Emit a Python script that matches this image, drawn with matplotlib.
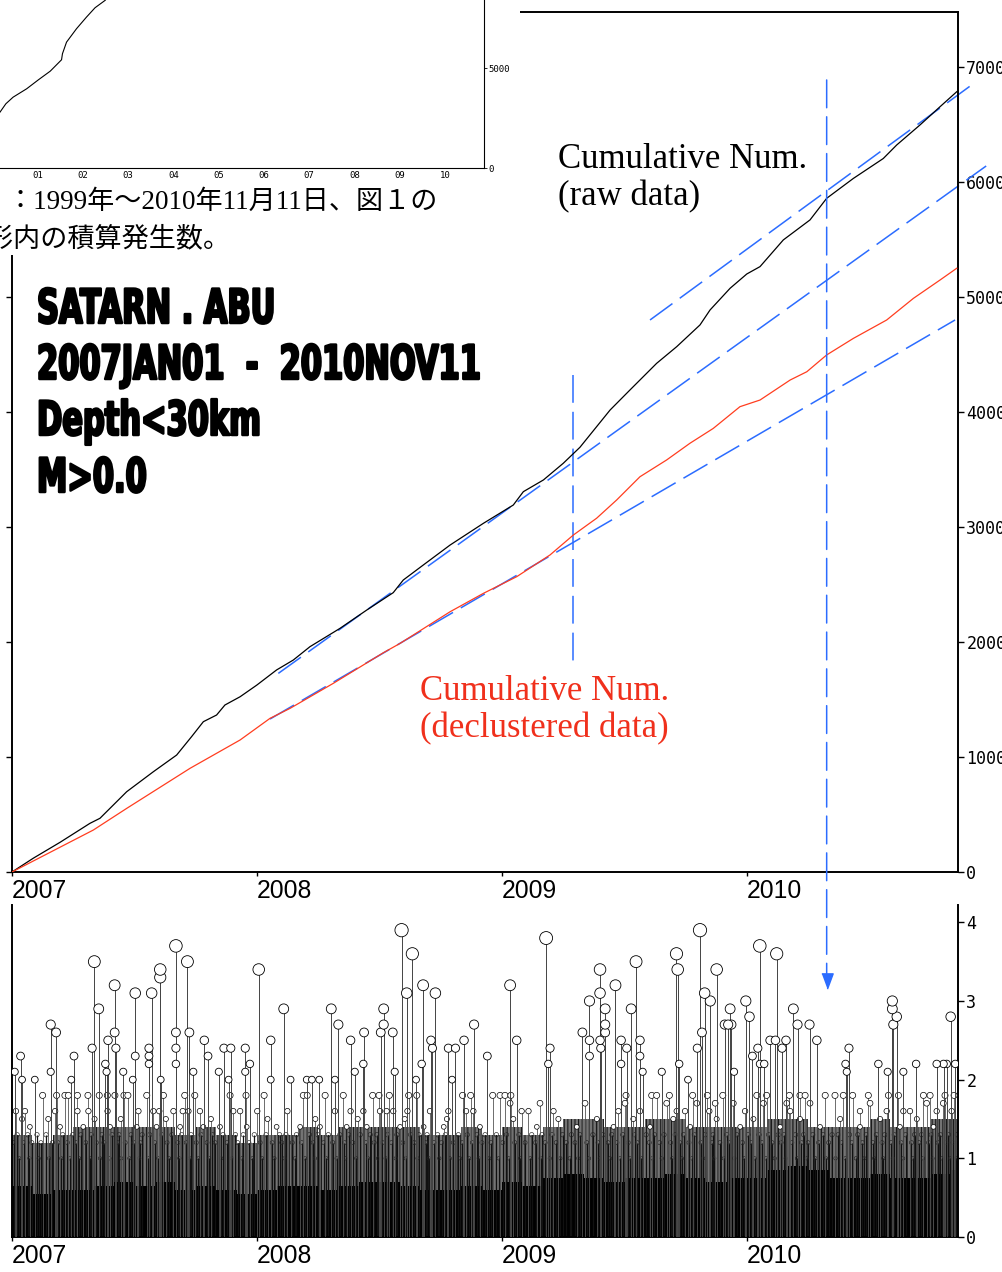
import matplotlib
matplotlib.use("Agg")
import matplotlib.pyplot as plt
import numpy as np
from matplotlib.patches import Rectangle, ConnectionPatch
from matplotlib.patheffects import AbstractPathEffect
from matplotlib.transforms import Affine2D

plt.rcParams["lines.scale_dashes"] = False
plt.rcParams["hatch.linewidth"] = 0.7

# ---------------------------------------------------------------- data
years = [2007, 2008, 2009, 2010]
t_end = 2010.861          # 2010 NOV 11

# cumulative number, raw catalogue
raw_t = [2007.000, 2007.087, 2007.196, 2007.318, 2007.359, 2007.427, 2007.468,
         2007.577, 2007.672, 2007.733, 2007.781, 2007.835, 2007.869, 2007.931,
         2007.999, 2008.080, 2008.148, 2008.216, 2008.339, 2008.448, 2008.556,
         2008.597, 2008.679, 2008.788, 2008.924, 2009.046, 2009.087, 2009.169,
         2009.250, 2009.318, 2009.441, 2009.522, 2009.631, 2009.713, 2009.808,
         2009.849, 2009.931, 2009.999, 2010.053, 2010.148, 2010.257, 2010.325,
         2010.434, 2010.556, 2010.611, 2010.706, 2010.788, 2010.856]
raw_n = [0, 120, 258, 423, 467, 611, 698,
         872, 1017, 1177, 1307, 1365, 1452, 1524,
         1625, 1757, 1843, 1959, 2119, 2278, 2429,
         2539, 2670, 2843, 3032, 3191, 3307, 3409,
         3554, 3693, 4017, 4191, 4423, 4568, 4757,
         4887, 5076, 5200, 5264, 5496, 5670, 5858,
         6031, 6204, 6322, 6496, 6655, 6785]

# cumulative number, declustered catalogue
dec_t = [2007.000, 2007.332, 2007.468, 2007.727, 2007.931, 2008.053, 2008.135,
         2008.311, 2008.516, 2008.584, 2008.788, 2008.924, 2009.060, 2009.196,
         2009.291, 2009.386, 2009.468, 2009.563, 2009.672, 2009.767, 2009.862,
         2009.971, 2010.053, 2010.135, 2010.176, 2010.244, 2010.325, 2010.434,
         2010.570, 2010.679, 2010.788, 2010.856]
dec_n = [0, 365, 553, 902, 1148, 1336, 1423,
         1640, 1907, 1988, 2263, 2423, 2568, 2757,
         2930, 3076, 3235, 3437, 3583, 3728, 3857,
         4046, 4104, 4220, 4278, 4350, 4496, 4640,
         4800, 4988, 5148, 5250]

# rate lines (t0, n0, t1, n1)
trend_lines = [(2009.604, 4800, 2010.922, 6852),
               (2008.087, 1727, 2010.976, 6139),
               (2008.053, 1330, 2010.849, 4800)]
split_date, split_lo, split_hi = 2009.290, 1800, 4322
alert_date, alert_top, alert_mag = 2010.325, 6887, 3.35

# long-term cumulative count 1999-2010 (small panel)
inset_t = [1999.00, 2000.17, 2000.30, 2000.46, 2000.76, 2001.02, 2001.28,
           2001.53, 2001.55, 2001.64, 2001.86, 2002.08, 2002.27, 2002.49, 2003.00]
inset_n = [0, 2804, 3226, 3558, 3980, 4432, 4864,
           5437, 5739, 6322, 6995, 7578, 8050, 8417, 9700]

# larger events (decimal year, magnitude)
big_events = [
    (2007.011, 2.1), (2007.035, 2.3), (2007.041, 2.0), (2007.093, 2.0), (2007.158, 2.7),
    (2007.158, 2.1), (2007.180, 2.6), (2007.242, 2.0), (2007.253, 2.3), (2007.327, 2.4),
    (2007.336, 3.5), (2007.354, 2.9), (2007.381, 2.2), (2007.386, 2.1), (2007.392, 2.5),
    (2007.419, 3.2), (2007.419, 2.6), (2007.424, 2.4), (2007.454, 2.1), (2007.493, 2.0),
    (2007.503, 3.1), (2007.503, 2.3), (2007.559, 2.4), (2007.559, 2.3), (2007.559, 2.2),
    (2007.570, 3.1), (2007.605, 3.4), (2007.605, 3.3), (2007.607, 2.0), (2007.669, 3.7),
    (2007.669, 2.6), (2007.669, 2.4), (2007.669, 2.2), (2007.716, 3.5), (2007.724, 2.6),
    (2007.740, 2.1), (2007.785, 2.5), (2007.800, 2.3), (2007.844, 2.1), (2007.865, 2.4),
    (2007.884, 2.0), (2007.893, 2.4), (2007.952, 2.4), (2007.952, 2.1), (2007.971, 2.2),
    (2008.007, 3.4), (2008.056, 2.5), (2008.056, 2.0), (2008.109, 2.9), (2008.137, 2.0),
    (2008.203, 2.0), (2008.224, 2.0), (2008.254, 2.0), (2008.303, 2.9), (2008.318, 2.0),
    (2008.332, 2.7), (2008.382, 2.5), (2008.399, 2.1), (2008.434, 2.2), (2008.437, 2.6),
    (2008.505, 2.6), (2008.517, 2.9), (2008.517, 2.7), (2008.554, 2.6), (2008.562, 2.1),
    (2008.590, 3.9), (2008.611, 3.1), (2008.634, 3.6), (2008.649, 2.0), (2008.672, 2.2),
    (2008.678, 3.2), (2008.710, 2.5), (2008.716, 2.4), (2008.728, 3.1), (2008.781, 2.4),
    (2008.796, 2.0), (2008.810, 2.4), (2008.845, 2.5), (2008.886, 2.7), (2008.940, 2.3),
    (2009.033, 3.2), (2009.060, 2.5), (2009.180, 3.8), (2009.189, 2.2), (2009.196, 2.4),
    (2009.328, 2.6), (2009.357, 3.0), (2009.357, 2.5), (2009.357, 2.3), (2009.400, 3.4),
    (2009.400, 3.1), (2009.400, 2.5), (2009.403, 2.4), (2009.421, 2.9), (2009.421, 2.7),
    (2009.421, 2.6), (2009.463, 3.2), (2009.486, 2.5), (2009.486, 2.2), (2009.509, 2.4),
    (2009.527, 2.9), (2009.547, 3.5), (2009.563, 2.5), (2009.563, 2.3), (2009.574, 2.1),
    (2009.652, 2.1), (2009.712, 3.6), (2009.717, 3.4), (2009.723, 2.2), (2009.759, 2.0),
    (2009.797, 2.4), (2009.808, 3.9), (2009.816, 2.6), (2009.827, 3.1), (2009.850, 3.0),
    (2009.876, 3.4), (2009.909, 2.7), (2009.923, 2.7), (2009.931, 2.9), (2009.936, 2.7),
    (2009.947, 2.1), (2009.995, 3.0), (2010.010, 2.8), (2010.022, 2.3), (2010.044, 2.4),
    (2010.052, 3.7), (2010.053, 2.2), (2010.070, 2.2), (2010.094, 2.5), (2010.116, 2.5),
    (2010.121, 3.6), (2010.143, 2.4), (2010.159, 2.5), (2010.189, 2.9), (2010.206, 2.7),
    (2010.255, 2.7), (2010.285, 2.5), (2010.402, 2.2), (2010.407, 2.1), (2010.416, 2.4),
    (2010.536, 2.2), (2010.574, 2.1), (2010.593, 3.0), (2010.593, 2.9), (2010.597, 2.7),
    (2010.611, 2.8), (2010.638, 2.1), (2010.690, 2.2), (2010.774, 2.2), (2010.802, 2.2),
    (2010.815, 2.2), (2010.831, 2.8), (2010.850, 2.2),
]

# smaller events, grouped by magnitude
mag_18 = [2007.125, 2007.182, 2007.216, 2007.230, 2007.267, 2007.310, 2007.356, 2007.389,
          2007.420, 2007.457, 2007.473, 2007.550, 2007.618, 2007.705, 2007.746, 2007.890,
          2007.955, 2008.029, 2008.189, 2008.205, 2008.278, 2008.352, 2008.472, 2008.498,
          2008.540, 2008.619, 2008.652, 2008.839, 2008.872, 2008.962, 2008.992, 2009.012,
          2009.036, 2009.506, 2009.611, 2009.631, 2009.683, 2009.778, 2009.838, 2009.901,
          2010.040, 2010.080, 2010.173, 2010.216, 2010.237, 2010.319, 2010.359, 2010.393,
          2010.431, 2010.495, 2010.577, 2010.618, 2010.720, 2010.747, 2010.808, 2010.845]
mag_17 = [2009.033, 2009.155, 2009.339, 2009.502, 2009.672, 2009.795, 2009.870, 2009.944,
          2010.067, 2010.162, 2010.257, 2010.502, 2010.733, 2010.801]
mag_16 = [2007.016, 2007.053, 2007.176, 2007.267, 2007.312, 2007.390, 2007.516, 2007.577,
          2007.601, 2007.659, 2007.697, 2007.720, 2007.767, 2007.903, 2007.931, 2008.001,
          2008.124, 2008.318, 2008.382, 2008.434, 2008.502, 2008.529, 2008.556, 2008.614,
          2008.706, 2008.781, 2008.853, 2008.883, 2009.080, 2009.108, 2009.210, 2009.475,
          2009.563, 2009.713, 2009.747, 2009.846, 2009.992, 2010.176, 2010.461, 2010.570,
          2010.638, 2010.665, 2010.774, 2010.835]
mag_15 = [2007.041, 2007.148, 2007.337, 2007.444, 2007.628, 2007.812, 2008.043, 2008.238,
          2008.411, 2008.603, 2008.775, 2009.046, 2009.230, 2009.387, 2009.536, 2009.699,
          2009.876, 2010.026, 2010.216, 2010.380, 2010.543, 2010.693]
mag_14 = [2007.073, 2007.196, 2007.291, 2007.400, 2007.509, 2007.590, 2007.686, 2007.781,
          2007.849, 2007.958, 2008.080, 2008.176, 2008.257, 2008.366, 2008.448, 2008.584,
          2008.680, 2008.762, 2008.910, 2009.142, 2009.305, 2009.455, 2009.604, 2009.768,
          2009.972, 2010.135, 2010.298, 2010.461, 2010.624, 2010.761]
mag_13 = [2007.021, 2007.064, 2007.102, 2007.139, 2007.207, 2007.248, 2007.281, 2007.323,
          2007.366, 2007.409, 2007.437, 2007.486, 2007.531, 2007.562, 2007.611, 2007.653,
          2007.692, 2007.731, 2007.772, 2007.818, 2007.861, 2007.912, 2007.944, 2007.989,
          2008.037, 2008.092, 2008.118, 2008.161, 2008.214, 2008.247, 2008.291, 2008.338,
          2008.374, 2008.421, 2008.462, 2008.489, 2008.533, 2008.571, 2008.627, 2008.661,
          2008.694, 2008.737, 2008.769, 2008.822, 2008.858, 2008.897, 2008.931, 2008.977,
          2009.018, 2009.069, 2009.121, 2009.163, 2009.204, 2009.247, 2009.283, 2009.318,
          2009.371, 2009.412, 2009.448, 2009.493, 2009.541, 2009.588, 2009.622, 2009.661,
          2009.707, 2009.741, 2009.785, 2009.829, 2009.861, 2009.917, 2009.958, 2010.004,
          2010.049, 2010.088, 2010.127, 2010.151, 2010.198, 2010.231, 2010.268, 2010.311,
          2010.347, 2010.372, 2010.418, 2010.452, 2010.487, 2010.528, 2010.562, 2010.601,
          2010.647, 2010.684, 2010.712, 2010.752, 2010.789, 2010.822, 2010.857]
mag_12 = [2007.008, 2007.047, 2007.081, 2007.118, 2007.165, 2007.188, 2007.226, 2007.262,
          2007.301, 2007.344, 2007.375, 2007.431, 2007.462, 2007.497, 2007.524, 2007.582,
          2007.633, 2007.677, 2007.711, 2007.752, 2007.796, 2007.829, 2007.877, 2007.921,
          2007.967, 2008.013, 2008.062, 2008.101, 2008.144, 2008.182, 2008.229, 2008.272,
          2008.309, 2008.357, 2008.391, 2008.444, 2008.478, 2008.512, 2008.549, 2008.595,
          2008.642, 2008.688, 2008.722, 2008.753, 2008.801, 2008.838, 2008.879, 2008.918,
          2008.955, 2009.003, 2009.052, 2009.094, 2009.137, 2009.176, 2009.221, 2009.262,
          2009.298, 2009.346, 2009.392, 2009.433, 2009.469, 2009.515, 2009.552, 2009.601,
          2009.643, 2009.688, 2009.726, 2009.763, 2009.812, 2009.857, 2009.889, 2009.928,
          2009.981, 2010.017, 2010.061, 2010.102, 2010.139, 2010.183, 2010.222, 2010.249,
          2010.292, 2010.333, 2010.386, 2010.427, 2010.471, 2010.513, 2010.551, 2010.588,
          2010.629, 2010.671, 2010.702, 2010.741, 2010.779, 2010.812, 2010.841]
mag_10 = [2007.030, 2007.071, 2007.109, 2007.151, 2007.201, 2007.236, 2007.274, 2007.318,
          2007.359, 2007.398, 2007.446, 2007.479, 2007.519, 2007.556, 2007.597, 2007.641,
          2007.683, 2007.725, 2007.761, 2007.806, 2007.854, 2007.897, 2007.938, 2007.981,
          2008.021, 2008.071, 2008.112, 2008.155, 2008.196, 2008.236, 2008.283, 2008.325,
          2008.362, 2008.405, 2008.453, 2008.494, 2008.525, 2008.566, 2008.607, 2008.655,
          2008.701, 2008.744, 2008.787, 2008.829, 2008.866, 2008.905, 2008.948, 2008.986,
          2009.027, 2009.074, 2009.115, 2009.158, 2009.195, 2009.238, 2009.276, 2009.311,
          2009.355, 2009.398, 2009.441, 2009.481, 2009.522, 2009.569, 2009.613, 2009.652,
          2009.695, 2009.734, 2009.774, 2009.821, 2009.866, 2009.905, 2009.948, 2009.989,
          2010.031, 2010.077, 2010.113, 2010.158, 2010.204, 2010.243, 2010.279, 2010.322,
          2010.361, 2010.401, 2010.444, 2010.479, 2010.519, 2010.556, 2010.595, 2010.637,
          2010.677, 2010.718, 2010.757, 2010.795, 2010.829, 2010.853]

# monthly height of the dense swarm of small events (Jan 2007 ... Nov 2010)
swarm_solid = [0.65, 0.55, 0.60, 0.60, 0.65, 0.70, 0.65, 0.70, 0.60, 0.65, 0.60, 0.55,
               0.60, 0.65, 0.65, 0.60, 0.65, 0.70, 0.70, 0.65, 0.60, 0.60, 0.65, 0.60,
               0.70, 0.65, 0.75, 0.80, 0.75, 0.70, 0.75, 0.75, 0.80, 0.75, 0.70, 0.75,
               0.75, 0.85, 0.90, 0.85, 0.75, 0.75, 0.80, 0.75, 0.75, 0.80, 0.85]
swarm_top = [1.30, 1.20, 1.30, 1.40, 1.40, 1.40, 1.40, 1.40, 1.30, 1.40, 1.30, 1.20,
             1.30, 1.30, 1.40, 1.30, 1.40, 1.40, 1.40, 1.40, 1.30, 1.30, 1.40, 1.30,
             1.40, 1.30, 1.40, 1.50, 1.50, 1.40, 1.40, 1.50, 1.50, 1.40, 1.40, 1.40,
             1.40, 1.50, 1.50, 1.40, 1.40, 1.40, 1.50, 1.40, 1.40, 1.50, 1.50]

# ---------------------------------------------------------------- style
BLUE = "#2b6cff"
RED = "#ff3d1f"
DASH = (20, 6.5)
W, H = 1003, 1272


class Narrow(AbstractPathEffect):
    """Squeeze glyphs horizontally and thicken them a bit (poster lettering)."""

    def __init__(self, sx=0.645, stroke=1.8):
        super().__init__()
        self.sx = sx
        self.stroke = stroke

    def draw_path(self, renderer, gc, tpath, affine, rgbFace=None):
        tr = Affine2D().scale(self.sx, 1.0) + affine
        gc0 = renderer.new_gc()
        gc0.copy_properties(gc)
        gc0.set_linewidth(self.stroke)
        gc0.set_foreground(rgbFace)
        renderer.draw_path(gc0, tpath, tr, rgbFace)
        gc0.restore()


fig = plt.figure(figsize=(W / 100, H / 100), dpi=100)


def box(x0, y0, x1, y1):
    return [x0 / W, 1 - y1 / H, (x1 - x0) / W, (y1 - y0) / H]


def at(x, y):
    return x / W, 1 - y / H


ax = fig.add_axes(box(12, 12, 958, 872))
axb = fig.add_axes(box(12, 905, 958, 1237))
axi = fig.add_axes(box(-53, -90, 484, 168))

# ---------------------------------------------------------------- cumulative panel
ax.plot(raw_t, raw_n, color="black", lw=0.9, zorder=3)
ax.plot(dec_t, dec_n, color=RED, lw=0.9, zorder=3)
for t0, n0, t1, n1 in trend_lines:
    ax.plot([t0, t1], [n0, n1], color=BLUE, lw=1.1, dashes=DASH, clip_on=False, zorder=2)
ax.plot([split_date, split_date], [split_hi, split_lo], color=BLUE, lw=1.1,
        dashes=DASH, zorder=2)

ax.set_xlim(2007, t_end)
ax.set_ylim(0, 7478)
ax.set_xticks(years)
ax.set_xticklabels([str(y) for y in years], ha="left")
ax.set_yticks(range(0, 7001, 1000))
ax.tick_params(axis="y", left=True, right=True, labelleft=False, labelright=True,
               direction="out", length=4, width=1, pad=2, labelsize=12,
               labelfontfamily="DejaVu Sans Mono")
ax.tick_params(axis="x", direction="out", length=3, width=1, pad=2, labelsize=17.8,
               labelfontfamily="Liberation Sans")
for s in ax.spines.values():
    s.set_linewidth(1.4)

# ---------------------------------------------------------------- magnitude panel
month_edges = list(2007 + np.arange(len(swarm_solid)) / 12) + [t_end]
axb.fill_between(month_edges, 0, swarm_solid + swarm_solid[-1:], step="post",
                 color="black", lw=0, zorder=1)
axb.fill_between(month_edges, swarm_solid + swarm_solid[-1:], swarm_top + swarm_top[-1:],
                 step="post", facecolor="none", edgecolor="#111111", hatch="|" * 12,
                 lw=0, zorder=1)

# dense small shocks: dark stems with tiny rings
low_t, low_m = [], []
for mag, times in [(1.3, mag_13), (1.2, mag_12), (1.0, mag_10)]:
    low_t += times
    low_m += [mag] * len(times)
low_t, low_m = np.array(low_t), np.array(low_m)
axb.vlines(low_t, 0, low_m, colors="#111111", lw=0.9, zorder=2)
axb.scatter(low_t, low_m, s=(2.45 * low_m) ** 2, facecolors="none",
            edgecolors="#222222", linewidths=0.45, zorder=2.5)

small_t, small_m = [], []
for mag, times in [(1.8, mag_18), (1.7, mag_17), (1.6, mag_16), (1.5, mag_15), (1.4, mag_14)]:
    small_t += times
    small_m += [mag] * len(times)
small_t, small_m = np.array(small_t), np.array(small_m)
axb.vlines(small_t, 0, small_m, colors="#555555", lw=0.6, zorder=3)
axb.scatter(small_t, small_m, s=(2.45 * small_m) ** 2, facecolors="white",
            edgecolors="black", linewidths=0.5, zorder=3.5)

big_t, big_m = np.array(big_events).T
axb.vlines(big_t, 0, big_m, colors="#444444", lw=0.7, zorder=4)
order = np.argsort(big_m)
axb.scatter(big_t[order], big_m[order], s=(2.45 * big_m[order]) ** 2, facecolors="white",
            edgecolors="black", linewidths=0.6, zorder=5)

axb.set_xlim(2007, t_end)
axb.set_ylim(0, 4.22)
axb.set_xticks(years)
axb.set_xticklabels([str(y) for y in years], ha="left")
axb.set_yticks(range(0, 5))
axb.tick_params(axis="y", left=False, right=True, labelleft=False, labelright=True,
                direction="out", length=4, width=1, pad=2, labelsize=12,
                labelfontfamily="DejaVu Sans Mono")
axb.tick_params(axis="x", direction="out", length=3, width=1, pad=2, labelsize=17.8,
                labelfontfamily="Liberation Sans")
axb.spines["top"].set_visible(False)
for s in ["left", "right", "bottom"]:
    axb.spines[s].set_linewidth(1.4)

# alert line running from the cumulative panel down into the magnitude panel
con = ConnectionPatch(xyA=(alert_date, alert_top), coordsA=ax.transData,
                      xyB=(alert_date, alert_mag), coordsB=axb.transData,
                      color=BLUE, lw=1.1, linestyle=(0, DASH))
fig.add_artist(con)
axb.plot([alert_date], [alert_mag - 0.09], marker=[(-3.7, 5), (3.7, 5), (0, -5)],
         ms=11, color=BLUE, clip_on=False, zorder=6)

# ---------------------------------------------------------------- pasted long-term panel
fig.add_artist(Rectangle(at(0, 255), 520 / W, 255 / H, transform=fig.transFigure,
                         facecolor="white", edgecolor="none", zorder=1))
axi.set_zorder(2)
axi.set_facecolor("white")
axi.plot(inset_t, inset_n, color="black", lw=0.8)
axi.set_xlim(1999, t_end)
axi.set_ylim(0, 12960)
axi.spines[["left", "top"]].set_visible(False)
axi.spines[["right", "bottom"]].set_linewidth(0.8)
axi.set_xticks(range(1999, 2011))
axi.set_xticklabels([f"{y % 100:02d}" for y in range(1999, 2011)])
axi.set_yticks([0, 5000, 10000])
axi.tick_params(axis="y", left=False, right=True, labelleft=False, labelright=True,
                length=2, width=0.6, pad=1, labelsize=6.5,
                labelfontfamily="DejaVu Sans Mono")
axi.tick_params(axis="x", length=0, pad=2, labelsize=6.5,
                labelfontfamily="DejaVu Sans Mono")

cap_font = ["Liberation Serif", "Noto Sans CJK JP"]
fig.text(*at(6, 209), "：1999年～2010年11月11日、図１の", family=cap_font,
         fontsize=19.5, va="baseline", ha="left", zorder=3)
fig.text(*at(-14, 246), "形内の積算発生数。", family=cap_font,
         fontsize=19.5, va="baseline", ha="left", zorder=3)

# ---------------------------------------------------------------- annotations
head = ["SATARN . ABU", "2007JAN01  -  2010NOV11", "Depth<30km", "M>0.0"]
for line, base in zip(head, [323, 379, 435, 492]):
    fig.text(*at(37, base), line, family="DejaVu Sans", weight="bold", fontsize=34,
             va="baseline", ha="left", path_effects=[Narrow()], zorder=3)

fig.text(*at(558, 168), "Cumulative Num.", family="Liberation Serif", fontsize=25,
         va="baseline", color="black")
fig.text(*at(558, 205), "(raw data)", family="Liberation Serif", fontsize=25,
         va="baseline", color="black")
fig.text(*at(420, 700), "Cumulative Num.", family="Liberation Serif", fontsize=25,
         va="baseline", color="#f0301c")
fig.text(*at(420, 737), "(declustered data)", family="Liberation Serif", fontsize=25,
         va="baseline", color="#f0301c")

fig.savefig("out.png", dpi=100)
